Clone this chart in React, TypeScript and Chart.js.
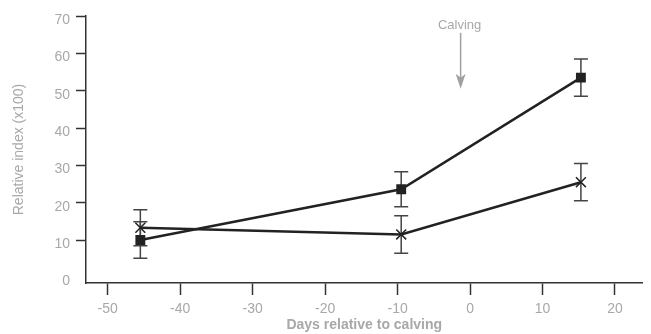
import React, { useEffect, useRef } from "react";
import { Chart, registerables } from "chart.js";

Chart.register(...registerables);

// ---- data ----
const days: number[] = [-45.5, -9.5, 15.3];
const squareValues: number[] = [10.0, 23.6, 53.5];
const squareErrors: number[] = [4.9, 4.7, 5.0];
const crossValues: number[] = [13.3, 11.5, 25.5];
const crossErrors: number[] = [4.8, 5.0, 5.0];
const xTickValues: number[] = [-50, -40, -30, -20, -10, 0, 10, 20];
const yTickValues: number[] = [0, 10, 20, 30, 40, 50, 60, 70];
const calvingLabel = "Calving";
const calvingDay = -1.3;
const calvingArrowTop = 65.5;
const calvingArrowBottom = 50.5;

const GREY = "#a8a8a8";
const DARK = "#222222";
const AXIS = "#333333";
const FONT = "'Liberation Sans', Arial, sans-serif";

const errorBarPlugin = {
  id: "errorBars",
  beforeDatasetsDraw(chart: any) {
    const { ctx, scales } = chart;
    const x = scales.x;
    const y = scales.y;
    const sets = [
      { v: squareValues, e: squareErrors },
      { v: crossValues, e: crossErrors },
    ];
    ctx.save();
    ctx.strokeStyle = "#444444";
    ctx.lineWidth = 1.5;
    sets.forEach((s) => {
      days.forEach((d, i) => {
        const px = x.getPixelForValue(d);
        const top = y.getPixelForValue(s.v[i] + s.e[i]);
        const bot = y.getPixelForValue(s.v[i] - s.e[i]);
        ctx.beginPath();
        ctx.moveTo(px, top);
        ctx.lineTo(px, bot);
        ctx.moveTo(px - 7, top);
        ctx.lineTo(px + 7, top);
        ctx.moveTo(px - 7, bot);
        ctx.lineTo(px + 7, bot);
        ctx.stroke();
      });
    });
    ctx.restore();
  },
};

const calvingPlugin = {
  id: "calving",
  afterDraw(chart: any) {
    const { ctx, scales } = chart;
    const px = scales.x.getPixelForValue(calvingDay);
    const top = scales.y.getPixelForValue(calvingArrowTop);
    const bot = scales.y.getPixelForValue(calvingArrowBottom);
    ctx.save();
    ctx.fillStyle = GREY;
    ctx.font = `13px ${FONT}`;
    ctx.textAlign = "center";
    ctx.textBaseline = "bottom";
    ctx.fillText(calvingLabel, px - 1, top - 1);
    ctx.strokeStyle = "#a0a0a0";
    ctx.fillStyle = "#a0a0a0";
    ctx.lineWidth = 1.5;
    ctx.beginPath();
    ctx.moveTo(px, top);
    ctx.lineTo(px, bot - 10);
    ctx.stroke();
    ctx.beginPath();
    ctx.moveTo(px - 5, bot - 15);
    ctx.lineTo(px, bot - 11);
    ctx.lineTo(px + 5, bot - 15);
    ctx.lineTo(px, bot);
    ctx.closePath();
    ctx.fill();
    ctx.restore();
  },
};

export default function App() {
  const canvasRef = useRef<HTMLCanvasElement | null>(null);

  useEffect(() => {
    document.body.style.margin = "0";
    const canvas = canvasRef.current;
    if (!canvas) return;
    const chart = new Chart(canvas, {
      type: "line",
      data: {
        datasets: [
          {
            label: "Square",
            data: days.map((d, i) => ({ x: d, y: squareValues[i] })),
            borderColor: DARK,
            backgroundColor: DARK,
            borderWidth: 2.5,
            pointStyle: "rect",
            pointRadius: 7,
            pointBorderWidth: 0,
            pointBackgroundColor: DARK,
          },
          {
            label: "Cross",
            data: days.map((d, i) => ({ x: d, y: crossValues[i] })),
            borderColor: DARK,
            backgroundColor: DARK,
            borderWidth: 2.5,
            pointStyle: "crossRot",
            pointRadius: 7,
            pointBorderWidth: 1.5,
            pointBorderColor: DARK,
          },
        ],
      },
      options: {
        animation: false,
        responsive: false,
        maintainAspectRatio: false,
        layout: { padding: { top: 16, right: 6, left: 0, bottom: 0 } },
        plugins: {
          legend: { display: false },
          tooltip: { enabled: false },
        },
        scales: {
          x: {
            type: "linear",
            min: -53,
            max: 23.8,
            afterBuildTicks: (scale: any) => {
              scale.ticks = xTickValues.map((v) => ({ value: v }));
            },
            afterFit: (scale: any) => {
              scale.height = 51;
            },
            border: { display: true, color: AXIS, width: 1.5 },
            grid: {
              drawOnChartArea: false,
              drawTicks: true,
              tickLength: 12,
              tickColor: AXIS,
              tickWidth: 1.5,
            },
            ticks: {
              color: GREY,
              font: { family: FONT, size: 14 },
              padding: 6,
              maxRotation: 0,
            },
            title: {
              display: true,
              text: "Days relative to calving",
              color: GREY,
              font: { family: FONT, size: 14, weight: "bold" },
              padding: { top: 0, bottom: 0 },
            },
          },
          y: {
            type: "linear",
            min: -1.5,
            max: 70,
            afterBuildTicks: (scale: any) => {
              scale.ticks = yTickValues.map((v) => ({ value: v }));
            },
            afterFit: (scale: any) => {
              scale.width = 86;
            },
            border: { display: true, color: AXIS, width: 1.5 },
            grid: {
              drawOnChartArea: false,
              drawTicks: true,
              tickLength: 10,
              tickColor: (ctx: any) =>
                ctx.tick && ctx.tick.value === 0 ? "rgba(0,0,0,0)" : AXIS,
              tickWidth: 1.5,
            },
            ticks: {
              color: GREY,
              font: { family: FONT, size: 14 },
              padding: 6,
              labelOffset: 4,
            },
            title: {
              display: true,
              text: "Relative index (x100)",
              color: GREY,
              font: { family: FONT, size: 14 },
              padding: { top: 11, bottom: 0 },
            },
          },
        },
      },
      plugins: [errorBarPlugin, calvingPlugin],
    } as any);
    return () => chart.destroy();
  }, []);

  return (
    <div style={{ position: "absolute", left: 0, top: 0, width: 651, height: 334 }}>
      <canvas ref={canvasRef} width={651} height={334} style={{ width: 651, height: 334 }} />
    </div>
  );
}
